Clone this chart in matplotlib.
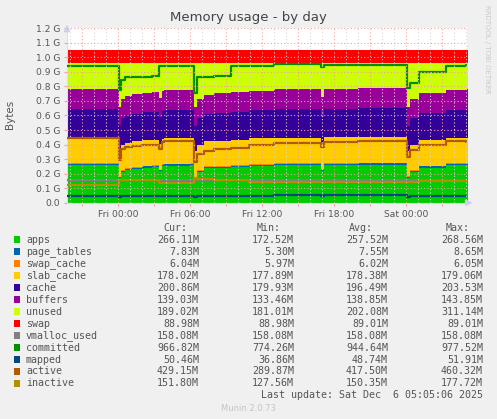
import matplotlib
matplotlib.use("Agg")
import matplotlib.pyplot as plt
from matplotlib.patches import Rectangle
from matplotlib.ticker import FixedLocator

# hours relative to Fri 00:00, values in MiB (value holds from that time on)
hours = [-4.25, 0.05, 0.25, 0.6, 1.2, 2.0, 2.8, 3.45, 3.65, 3.85, 6.1, 6.3, 6.6,
         7.2, 8.0, 9.4, 10.9, 13.0, 16.9, 17.15, 20.0, 24.05, 24.3, 25.1, 27.3, 29.0]

apps = [265, 173, 215, 232, 240, 248, 252, 220, 258, 262, 264, 173, 215,
        242, 246, 250, 260, 264, 222, 266, 268, 174, 218, 248, 264, 266]
page_tables = [8.5, 5.3, 6.5, 7.0, 7.3, 7.5, 7.6, 7.0, 7.8, 7.9, 8.0, 5.4, 6.6,
               7.1, 7.4, 7.6, 7.9, 8.2, 7.5, 8.4, 8.6, 5.5, 6.8, 7.3, 7.7, 7.8]
swap_cache = [6.05, 6.0, 6.0, 6.0, 6.0, 6.02, 6.02, 6.02, 6.03, 6.03, 6.03, 5.97, 5.98,
              6.0, 6.0, 6.01, 6.02, 6.02, 6.02, 6.03, 6.03, 6.04, 6.04, 6.04, 6.04, 6.04]
slab_cache = [178.6, 177.9, 178.0, 178.1, 178.2, 178.3, 178.3, 178.4, 178.5, 178.5, 178.6, 177.9, 178.1,
              178.3, 178.4, 178.5, 178.6, 178.7, 178.8, 179.0, 178.9, 177.9, 178.0, 178.0, 178.0, 178.0]
cache = [200, 182, 188, 192, 194, 196, 197, 190, 198, 198, 199, 181, 188,
         192, 195, 197, 198, 200, 192, 201, 203, 180, 188, 194, 199, 201]
buffers = [143.5, 133.5, 135.5, 136.5, 137.0, 137.5, 138.0, 137.5, 139.0, 139.5, 140.0, 133.5, 135.5,
           136.5, 137.5, 138.5, 139.5, 141.0, 140.0, 142.0, 143.0, 134.0, 136.0, 137.5, 138.5, 139.0]
total_ram = 986.9
swap = [89.0] * len(hours)

vmalloc_used = [158.08] * len(hours)
committed = [966, 795, 865, 885, 887, 889, 890, 960, 962, 965, 966, 775, 885,
             887, 890, 963, 966, 975, 955, 972, 968, 805, 842, 918, 966, 967]
mapped = [50.5, 37, 44, 46, 47.5, 48.5, 49, 47, 49.5, 50, 50.3, 37, 44,
          46.5, 48, 49, 50, 51, 49, 51.5, 51.9, 37, 45, 48, 50, 50.5]
active = [455, 300, 380, 390, 398, 405, 408, 380, 428, 432, 435, 290, 345,
          362, 375, 388, 405, 418, 395, 428, 432, 320, 368, 410, 432, 429]
inactive = [128, 160, 162, 163, 163, 163, 163, 137, 137, 137, 137, 175, 168,
            165, 162, 160, 148, 148, 148, 148, 148, 148, 148, 150, 152, 152]

unused = [total_ram - (a + p + s + sl + c + b) for a, p, s, sl, c, b in
          zip(apps, page_tables, swap_cache, slab_cache, cache, buffers)]

names = ["apps", "page_tables", "swap_cache", "slab_cache", "cache", "buffers", "unused",
         "swap", "vmalloc_used", "committed", "mapped", "active", "inactive"]
colors = ["#00CC00", "#0066B3", "#FF8000", "#FFCC00", "#330099", "#990099", "#CCFF00",
          "#FF0000", "#808080", "#008F00", "#00487D", "#B35A00", "#B38F00"]
stat_cur = [266.11, 7.83, 6.04, 178.02, 200.86, 139.03, 189.02, 88.98, 158.08, 966.82, 50.46, 429.15, 151.80]
stat_min = [172.52, 5.30, 5.97, 177.89, 179.93, 133.46, 181.01, 88.98, 158.08, 774.26, 36.86, 289.87, 127.56]
stat_avg = [257.52, 7.55, 6.02, 178.38, 196.49, 138.85, 202.08, 89.01, 158.08, 944.64, 48.74, 417.50, 150.35]
stat_max = [268.56, 8.65, 6.05, 179.06, 203.53, 143.85, 311.14, 89.01, 158.08, 977.52, 51.91, 460.32, 177.72]

tick_hours = [0, 6, 12, 18, 24]
tick_labels = ["Fri 00:00", "Fri 06:00", "Fri 12:00", "Fri 18:00", "Sat 00:00"]
y_ticks = [i / 10 for i in range(13)]
y_labels = ["0.0"] + ["%.1f G" % v for v in y_ticks[1:]]

W, H = 497, 419
fig = plt.figure(figsize=(W / 100, H / 100), dpi=100)
fig.patch.set_facecolor("#F0F0F0")
ax = fig.add_axes([67 / W, 1 - 202.7 / H, 400 / W, 174.4 / H])
ax.set_facecolor("white")

t = hours + [29.2]


def ext(s):
    return [v / 1024 for v in s] + [s[-1] / 1024]


stack = [apps, page_tables, swap_cache, slab_cache, cache, buffers, unused, swap]
base = [0.0] * len(t)
for s, c in zip(stack, colors[:8]):
    top = [b + v for b, v in zip(base, ext(s))]
    ax.fill_between(t, base, top, step="post", color=c, linewidth=0, zorder=2)
    base = top

for s, c in zip([vmalloc_used, committed, mapped, active, inactive], colors[8:]):
    ax.step(t, ext(s), where="post", color=c, linewidth=1.6, zorder=3)

ax.set_xlim(-4.25, 29.083)
ax.set_ylim(0, 1.2)

# grid on top, like rrdtool
for h in range(-4, 30):
    major = h % 3 == 0
    ax.axvline(h, color="#F2A0A0" if major else "#D8D8D8", linestyle=(0, (1, 2)),
               linewidth=0.8, zorder=4)
for v in y_ticks[1:]:
    ax.axhline(v, color="#F2A0A0", linestyle=(0, (1, 2)), linewidth=0.8, zorder=4)

ax.xaxis.set_major_locator(FixedLocator(tick_hours))
ax.set_xticklabels(tick_labels)
ax.xaxis.set_minor_locator(FixedLocator(list(range(-3, 30, 3))))
ax.yaxis.set_major_locator(FixedLocator(y_ticks))
ax.set_yticklabels(y_labels)
ax.tick_params(axis="both", which="major", labelsize=6.6, colors="#F2A0A0", length=2,
               labelcolor="#555555", pad=3)
ax.tick_params(axis="x", which="minor", colors="#F2A0A0", length=2)
for sp in ["top", "right"]:
    ax.spines[sp].set_visible(False)
for sp in ["left", "bottom"]:
    ax.spines[sp].set_color("#DDDDEE")
    ax.spines[sp].set_linewidth(0.8)
ax.annotate("", xy=(0, 1.035), xytext=(0, 0.995), xycoords="axes fraction",
            arrowprops=dict(arrowstyle="-|>", color="#C8D0F0", lw=0.8), annotation_clip=False)
ax.annotate("", xy=(1.02, 0), xytext=(0.995, 0), xycoords="axes fraction",
            arrowprops=dict(arrowstyle="-|>", color="#C8D0F0", lw=0.8), annotation_clip=False)

fig.text(248 / W, 1 - 18 / H, "Memory usage - by day", ha="center", va="center",
         fontsize=9.5, color="#444444")
fig.text(10 / W, 1 - 114 / H, "Bytes", rotation=90, ha="center", va="center",
         fontsize=7.5, color="#555555")
fig.text(487 / W, 1 - 5 / H, "RRDTOOL / TOBI OETIKER", rotation=270, ha="center", va="top",
         fontsize=5, color="#C8C8C8")

mono = dict(family="DejaVu Sans Mono", fontsize=7.2, color="#555555", va="center")
fig.text(175 / W, 1 - 227.7 / H, "Cur:", ha="center", **mono)
fig.text(269 / W, 1 - 227.7 / H, "Min:", ha="center", **mono)
fig.text(361 / W, 1 - 227.7 / H, "Avg:", ha="center", **mono)
fig.text(458 / W, 1 - 227.7 / H, "Max:", ha="center", **mono)
for i, (n, c) in enumerate(zip(names, colors)):
    y = 240 + i * 11.95
    fig.add_artist(Rectangle((14 / W, 1 - (y + 3.5) / H), 6 / W, 7 / H,
                             transform=fig.transFigure, color=c, linewidth=0))
    fig.text(26 / W, 1 - y / H, n, ha="left", **mono)
    for xr, vals in [(199, stat_cur), (294, stat_min), (388, stat_avg), (483, stat_max)]:
        fig.text(xr / W, 1 - y / H, "%.2fM" % vals[i], ha="right", **mono)
fig.text(483 / W, 1 - 395 / H, "Last update: Sat Dec  6 05:05:06 2025", ha="right", **mono)
fig.text(248 / W, 1 - 408 / H, "Munin 2.0.73", ha="center", va="center",
         fontsize=6, color="#C4C4C4")

fig.savefig("out.png", dpi=100, facecolor=fig.get_facecolor())
